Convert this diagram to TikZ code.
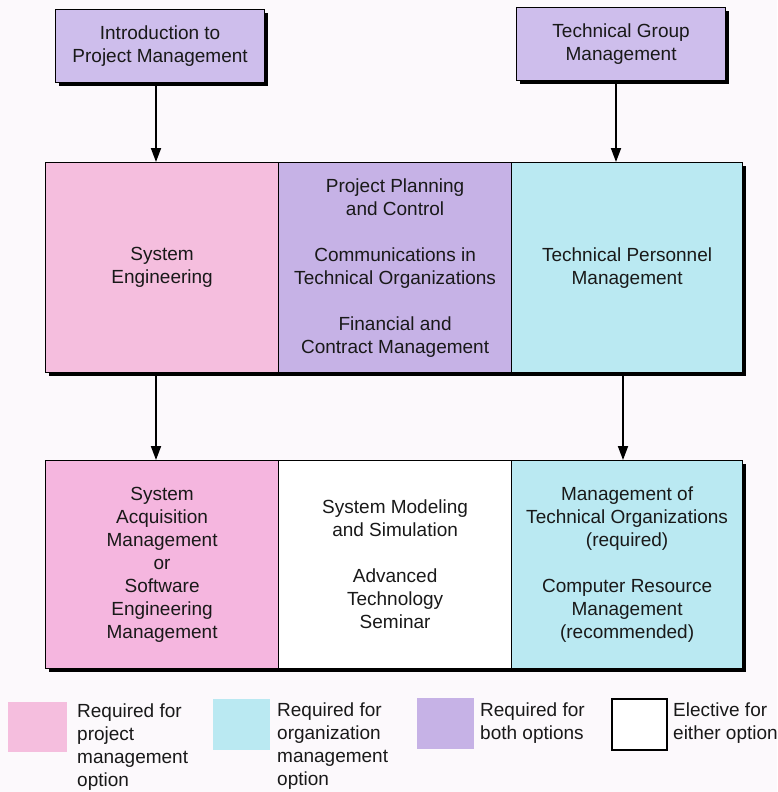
\documentclass[tikz,border=0pt]{standalone}
\usepackage{fontspec}
\setmainfont{Liberation Sans}
\usetikzlibrary{arrows.meta}

\definecolor{paper}{RGB}{252,249,252}
\definecolor{pinkopt}{RGB}{245,190,222}
\definecolor{violetopt}{RGB}{198,178,230}
\definecolor{violettop}{RGB}{206,190,236}
\definecolor{cyanopt}{RGB}{186,233,242}

\tikzset{
  every node/.style={font=\fontsize{19}{23}\selectfont, inner sep=0pt, text=black!90},
  cell/.style={draw=black, line width=1.2pt, align=center, anchor=north west},
  topbox/.style={cell, fill=violettop},
  shade/.style={fill=black},
  arr/.style={line width=1.8pt, -{Triangle[length=14pt,width=10pt]}},
  legendsw/.style={anchor=north west},
  legendtxt/.style={anchor=north west, align=left},
}

\begin{document}
\begin{tikzpicture}[x=1pt,y=-1pt]
  % page
  \fill[paper] (0,0) rectangle (777,792);
  \useasboundingbox (0,0) rectangle (777,792);

  % shadows behind the framed boxes
  \fill[shade] (59,13) rectangle (268,86);
  \fill[shade] (520,11) rectangle (729,84);
  \fill[shade] (49,166) rectangle (746,376);
  \fill[shade] (49,464) rectangle (746,672);

  % top courses
  \node[topbox, minimum width=209pt, minimum height=73pt] (intro) at (55,9)
    {Introduction to\\Project Management};
  \node[topbox, minimum width=209pt, minimum height=73pt] (techgroup) at (516,7)
    {Technical Group\\Management};

  % middle row
  \node[cell, fill=pinkopt, minimum width=233pt, minimum height=210pt] (syseng) at (45,162)
    {System\\Engineering};
  \node[cell, fill=violetopt, minimum width=233pt, minimum height=210pt] (core) at (278,162)
    {Project Planning\\and Control\\[23pt]Communications in\\Technical Organizations\\[23pt]Financial and\\Contract Management};
  \node[cell, fill=cyanopt, minimum width=231pt, minimum height=210pt] (personnel) at (511,162)
    {Technical Personnel\\Management};

  % bottom row
  \node[cell, fill=pinkopt!96!magenta, minimum width=233pt, minimum height=208pt] (acq) at (45,460)
    {System\\Acquisition\\Management\\or\\Software\\Engineering\\Management};
  \node[cell, fill=white, minimum width=233pt, minimum height=208pt] (elective) at (278,460)
    {System Modeling\\and Simulation\\[23pt]Advanced\\Technology\\Seminar};
  \node[cell, fill=cyanopt, minimum width=231pt, minimum height=208pt] (orgs) at (511,460)
    {Management of\\Technical Organizations\\(required)\\[23pt]Computer Resource\\Management\\(recommended)};

  % connectors
  \coordinate (lx) at (156,0);
  \coordinate (rxa) at (616,0);
  \coordinate (rxb) at (623,0);
  \draw[arr] (intro.south -| lx) -- (syseng.north -| lx);
  \draw[arr] (techgroup.south -| rxa) -- (personnel.north -| rxa);
  \draw[arr] (syseng.south -| lx) -- (acq.north -| lx);
  \draw[arr] (personnel.south -| rxb) -- (orgs.north -| rxb);

  % legend
  \node[legendsw, fill=pinkopt, minimum width=59pt, minimum height=50pt] (kpink) at (8,702) {};
  \node[legendtxt] (tpink) at (77,704) {Required for\\project\\management\\option};
  \node[legendsw, fill=cyanopt, minimum width=57pt, minimum height=51pt] (kcyan) at (213,699) {};
  \node[legendtxt] (tcyan) at (277,703) {Required for\\organization\\management\\option};
  \node[legendsw, fill=violetopt, minimum width=57pt, minimum height=51pt] (kviolet) at (417,698) {};
  \node[legendtxt] (tviolet) at (480,703) {Required for\\both options};
  \node[legendsw, draw=black, line width=1.6pt, fill=white, minimum width=55pt, minimum height=51pt] (kwhite) at (611,698) {};
  \node[legendtxt] (twhite) at (673,703) {Elective for\\either option};
\end{tikzpicture}
\end{document}
